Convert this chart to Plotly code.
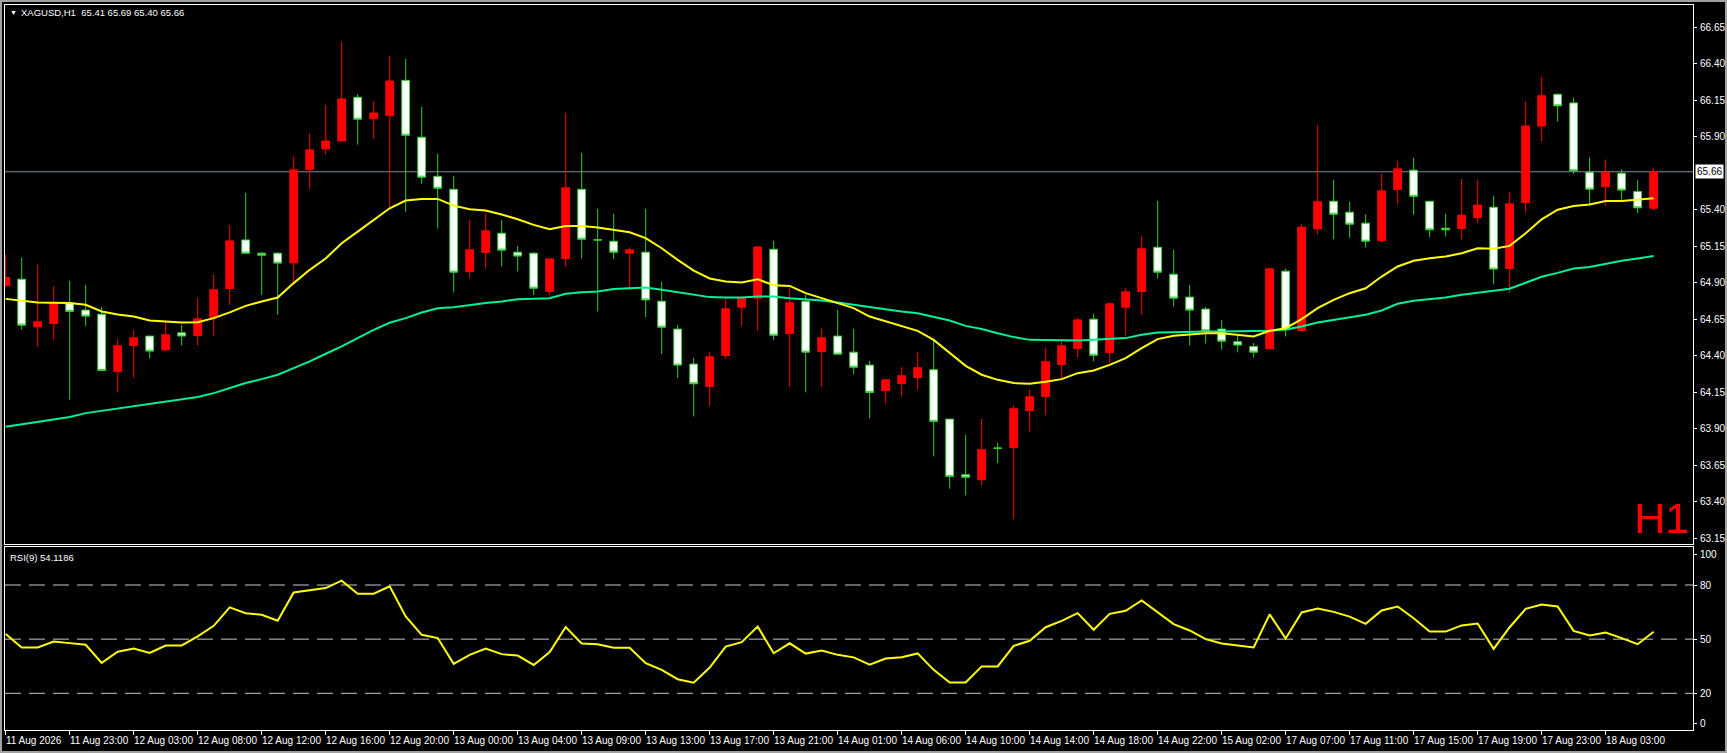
import plotly.graph_objects as go

# H1 bars, XAGUSD (red = up, white = down)
opens = [64.880, 64.924, 64.597, 64.620, 64.760, 64.712, 64.684, 64.292, 64.470, 64.534,
         64.440, 64.556, 64.538, 64.661, 64.860, 65.193, 65.102, 65.102, 65.036, 65.675,
         65.817, 65.871, 66.171, 66.024, 66.045, 66.287, 65.897, 65.629, 65.540, 64.977,
         65.107, 65.239, 65.109, 65.102, 64.840, 65.066, 65.540, 65.194, 65.184, 65.102,
         65.109, 64.773, 64.582, 64.342, 64.189, 64.401, 64.732, 64.794, 65.129, 64.552,
         64.773, 64.429, 64.534, 64.424, 64.335, 64.161, 64.209, 64.250, 64.303, 63.965,
         63.584, 63.550, 63.767, 63.771, 64.024, 64.120, 64.339, 64.449, 64.650, 64.422,
         64.732, 64.840, 65.143, 64.958, 64.801, 64.719, 64.582, 64.495, 64.463, 64.447,
         64.979, 64.572, 65.269, 65.458, 65.383, 65.308, 65.189, 65.540, 65.671, 65.458,
         65.273, 65.271, 65.346, 65.417, 64.997, 65.449, 65.974, 66.191, 66.132, 65.657,
         65.558, 65.650, 65.525, 65.410]
highs = [65.091, 65.072, 65.022, 64.874, 64.913, 64.885, 64.735, 64.513, 64.577, 64.534,
         64.634, 64.611, 64.798, 64.954, 65.294, 65.515, 65.109, 65.109, 65.764, 65.919,
         66.118, 66.550, 66.193, 66.141, 66.454, 66.433, 66.104, 65.782, 65.632, 65.330,
         65.376, 65.330, 65.152, 65.109, 65.063, 66.063, 65.789, 65.406, 65.372, 65.143,
         65.406, 64.906, 64.611, 64.385, 64.426, 64.789, 64.794, 65.145, 65.187, 64.862,
         64.817, 64.584, 64.714, 64.584, 64.365, 64.234, 64.323, 64.426, 64.508, 63.965,
         63.858, 63.967, 63.801, 64.056, 64.166, 64.454, 64.497, 64.657, 64.687, 64.762,
         64.865, 65.221, 65.460, 65.125, 64.885, 64.735, 64.645, 64.536, 64.486, 65.000,
         64.995, 65.303, 65.981, 65.604, 65.454, 65.369, 65.645, 65.734, 65.755, 65.458,
         65.372, 65.611, 65.604, 65.495, 65.518, 66.139, 66.310, 66.198, 66.168, 65.759,
         65.743, 65.677, 65.601, 65.690]
lows = [64.870, 64.577, 64.463, 64.508, 64.098, 64.604, 64.292, 64.148, 64.250, 64.381,
        64.429, 64.470, 64.470, 64.538, 64.748, 65.097, 64.817, 64.680, 64.897, 65.543,
        65.782, 65.871, 65.846, 65.887, 65.410, 65.387, 65.577, 65.271, 64.833, 64.929,
        64.997, 65.011, 64.977, 64.814, 64.814, 65.011, 65.066, 64.703, 65.061, 64.851,
        64.664, 64.410, 64.246, 63.983, 64.052, 64.376, 64.600, 64.570, 64.508, 64.189,
        64.148, 64.189, 64.410, 64.273, 63.970, 64.072, 64.120, 64.166, 63.709, 63.488,
        63.442, 63.511, 63.664, 63.280, 63.881, 63.993, 64.241, 64.387, 64.362, 64.349,
        64.538, 64.682, 64.929, 64.737, 64.470, 64.483, 64.442, 64.422, 64.387, 64.447,
        64.531, 64.572, 65.234, 65.198, 65.209, 65.141, 65.177, 65.435, 65.367, 65.212,
        65.216, 65.198, 65.308, 64.890, 64.833, 65.381, 65.868, 66.003, 65.644, 65.436,
        65.426, 65.469, 65.377, 65.400]
closes = [64.935, 64.609, 64.632, 64.760, 64.703, 64.671, 64.298, 64.467, 64.522, 64.431,
          64.543, 64.534, 64.652, 64.851, 65.186, 65.102, 65.088, 65.034, 65.673, 65.810,
          65.871, 66.159, 66.020, 66.063, 66.282, 65.910, 65.623, 65.547, 64.972, 65.125,
          65.255, 65.123, 65.082, 64.862, 65.063, 65.550, 65.198, 65.192, 65.109, 65.125,
          64.782, 64.595, 64.335, 64.207, 64.392, 64.721, 64.794, 65.145, 64.540, 64.762,
          64.424, 64.522, 64.410, 64.321, 64.148, 64.234, 64.262, 64.317, 63.949, 63.572,
          63.566, 63.755, 63.765, 64.036, 64.118, 64.358, 64.467, 64.645, 64.403, 64.755,
          64.837, 65.132, 64.972, 64.794, 64.712, 64.570, 64.499, 64.472, 64.424, 64.995,
          64.577, 65.280, 65.454, 65.369, 65.301, 65.184, 65.529, 65.680, 65.492, 65.262,
          65.262, 65.362, 65.431, 64.993, 65.440, 65.974, 66.181, 66.112, 65.667, 65.541,
          65.657, 65.535, 65.413, 65.660]

ma_fast = [64.789, 64.776, 64.764, 64.762, 64.760, 64.748, 64.703, 64.682, 64.668, 64.641,
           64.636, 64.627, 64.629, 64.657, 64.696, 64.741, 64.771, 64.798, 64.897, 64.988,
           65.066, 65.170, 65.250, 65.330, 65.410, 65.463, 65.474, 65.474, 65.428, 65.403,
           65.394, 65.367, 65.335, 65.296, 65.266, 65.289, 65.289, 65.278, 65.262, 65.246,
           65.205, 65.136, 65.056, 64.983, 64.929, 64.908, 64.901, 64.924, 64.882, 64.878,
           64.828, 64.794, 64.760, 64.726, 64.668, 64.634, 64.604, 64.570, 64.508, 64.417,
           64.330, 64.269, 64.234, 64.212, 64.207, 64.221, 64.239, 64.280, 64.298, 64.337,
           64.383, 64.451, 64.513, 64.536, 64.547, 64.554, 64.554, 64.545, 64.531, 64.570,
           64.588, 64.650, 64.725, 64.782, 64.828, 64.862, 64.942, 65.011, 65.050, 65.068,
           65.079, 65.102, 65.136, 65.132, 65.152, 65.239, 65.334, 65.400, 65.426, 65.436,
           65.459, 65.459, 65.469, 65.479]
ma_slow = [63.913, 63.929, 63.945, 63.965, 63.979, 64.006, 64.022, 64.038, 64.054, 64.070,
           64.086, 64.098, 64.116, 64.143, 64.177, 64.212, 64.239, 64.269, 64.314, 64.360,
           64.413, 64.463, 64.520, 64.577, 64.625, 64.657, 64.696, 64.725, 64.732, 64.748,
           64.760, 64.771, 64.787, 64.789, 64.794, 64.824, 64.835, 64.840, 64.856, 64.862,
           64.867, 64.851, 64.835, 64.817, 64.801, 64.798, 64.798, 64.805, 64.805, 64.794,
           64.787, 64.778, 64.764, 64.748, 64.732, 64.719, 64.703, 64.691, 64.668, 64.641,
           64.604, 64.582, 64.554, 64.527, 64.508, 64.506, 64.504, 64.504, 64.508, 64.513,
           64.520, 64.543, 64.559, 64.561, 64.566, 64.566, 64.566, 64.566, 64.566, 64.570,
           64.579, 64.600, 64.627, 64.645, 64.661, 64.680, 64.709, 64.755, 64.776, 64.787,
           64.798, 64.817, 64.833, 64.844, 64.858, 64.897, 64.940, 64.967, 64.997, 65.007,
           65.030, 65.050, 65.066, 65.083]
rsi = [52.8, 45.4, 45.4, 48.7, 47.8, 46.9, 36.9, 43.0, 44.8, 42.4,
       46.5, 46.5, 51.5, 57.4, 67.6, 64.4, 63.5, 60.2, 75.9, 77.0,
       78.3, 82.4, 75.2, 75.2, 79.3, 62.6, 52.4, 50.6, 36.3, 41.3,
       44.8, 41.7, 40.9, 35.7, 42.8, 56.7, 47.6, 47.2, 45.2, 45.2,
       36.7, 33.0, 27.8, 25.9, 34.3, 45.9, 48.3, 57.0, 42.2, 47.7,
       42.0, 43.7, 41.3, 39.9, 35.8, 39.3, 40.0, 42.1, 33.0, 26.0,
       26.0, 34.9, 34.9, 46.3, 49.1, 56.6, 60.1, 64.4, 55.2, 64.0,
       65.7, 71.4, 64.9, 58.3, 54.8, 50.0, 47.6, 46.7, 45.4, 63.7,
       50.4, 64.8, 67.0, 65.1, 62.5, 58.5, 65.9, 68.1, 61.6, 54.2,
       54.2, 57.6, 58.7, 44.6, 56.6, 66.8, 69.2, 68.1, 54.6, 52.0,
       53.7, 50.6, 47.2, 54.12]

bars = list(range(len(closes)))

time_ticks = list(range(0, 101, 4))
time_labels = ["11 Aug 2026", "11 Aug 23:00", "12 Aug 03:00", "12 Aug 08:00", "12 Aug 12:00",
               "12 Aug 16:00", "12 Aug 20:00", "13 Aug 00:00", "13 Aug 04:00", "13 Aug 09:00",
               "13 Aug 13:00", "13 Aug 17:00", "13 Aug 21:00", "14 Aug 01:00", "14 Aug 06:00",
               "14 Aug 10:00", "14 Aug 14:00", "14 Aug 18:00", "14 Aug 22:00", "15 Aug 02:00",
               "17 Aug 07:00", "17 Aug 11:00", "17 Aug 15:00", "17 Aug 19:00", "17 Aug 23:00",
               "18 Aug 03:00"]
price_ticks = [66.65, 66.40, 66.15, 65.90, 65.40, 65.15, 64.90, 64.65, 64.40, 64.15,
               63.90, 63.65, 63.40, 63.15]
last_price = 65.66
rsi_levels = [80, 50, 20]
rsi_label_pos = [97.1, 80, 50, 20, 3.4]
rsi_label_text = ["100", "80", "50", "20", "0"]

W, H = 1727, 753
FONT = "Liberation Sans, Arial, sans-serif"
x_left, x_right = 5 / W, 1693 / W
label_x = 1698 / W

fig = go.Figure()

fig.add_trace(go.Candlestick(
    x=bars, open=opens, high=highs, low=lows, close=closes,
    increasing=dict(line=dict(color="#FF0000", width=1), fillcolor="#FF0000"),
    decreasing=dict(line=dict(color="#32CD32", width=1), fillcolor="#FFFFFF"),
    whiskerwidth=0, showlegend=False, hoverinfo="skip",
    xaxis="x", yaxis="y"))

fig.add_trace(go.Scatter(x=bars, y=ma_slow, mode="lines",
                         line=dict(color="#00F09A", width=2), showlegend=False,
                         xaxis="x", yaxis="y"))
fig.add_trace(go.Scatter(x=bars, y=ma_fast, mode="lines",
                         line=dict(color="#FFFF00", width=2), showlegend=False,
                         xaxis="x", yaxis="y"))

fig.add_trace(go.Scatter(x=bars, y=rsi, mode="lines",
                         line=dict(color="#FFFF00", width=2), showlegend=False,
                         xaxis="x2", yaxis="y2"))

# current price line
fig.add_shape(type="line", xref="x domain", yref="y", x0=0, x1=1,
              y0=last_price, y1=last_price, line=dict(color="#7F8A99", width=1), layer="below")

for lvl in rsi_levels:
    fig.add_shape(type="line", xref="x2 domain", yref="y2", x0=0, x1=1, y0=lvl, y1=lvl,
                  line=dict(color="#C8C8C8", width=1, dash="16px,8px"), layer="below")

# window border
fig.add_shape(type="rect", xref="paper", yref="paper", x0=0, x1=1, y0=0, y1=1,
              line=dict(color="#A0A0A0", width=4))

axis_common = dict(showgrid=False, zeroline=False, showline=True, linecolor="#FFFFFF",
                   linewidth=1, mirror=True, showticklabels=False)

fig.update_layout(
    width=W, height=H,
    margin=dict(l=0, r=0, t=0, b=0),
    paper_bgcolor="#000000", plot_bgcolor="#000000",
    font=dict(family=FONT, size=10, color="#FFFFFF"),
    boxgap=0.3,
    xaxis=dict(domain=[x_left, x_right], range=[-0.044, 105.46], anchor="y",
               ticks="", rangeslider=dict(visible=False), **axis_common),
    yaxis=dict(domain=[1 - 544 / H, 1 - 5 / H], range=[63.109, 66.803], anchor="x",
               side="right", tickvals=price_ticks, ticks="outside", ticklen=3,
               tickcolor="#FFFFFF", **axis_common),
    xaxis2=dict(domain=[x_left, x_right], range=[-0.044, 105.46], anchor="y2", matches="x",
                tickvals=time_ticks, ticks="outside", ticklen=4, tickcolor="#FFFFFF",
                **axis_common),
    yaxis2=dict(domain=[1 - 730 / H, 1 - 547 / H], range=[-0.33, 101.05], anchor="x2",
                side="right", tickvals=rsi_label_pos, ticks="outside", ticklen=3,
                tickcolor="#FFFFFF", **axis_common),
)

label_font = dict(size=10, color="#FFFFFF", family=FONT)

for v in price_ticks:
    fig.add_annotation(xref="paper", yref="y", x=label_x, y=v, text=f"{v:.2f}",
                       showarrow=False, xanchor="left", yanchor="middle", font=label_font)
for v, t in zip(rsi_label_pos, rsi_label_text):
    fig.add_annotation(xref="paper", yref="y2", x=label_x, y=v, text=t,
                       showarrow=False, xanchor="left", yanchor="middle", font=label_font)
for v, t in zip(time_ticks, time_labels):
    fig.add_annotation(xref="x2", yref="paper", x=v, y=1 - 740 / H, text=t,
                       showarrow=False, xanchor="left", yanchor="middle", xshift=-2,
                       font=label_font)

fig.add_annotation(xref="paper", yref="y", x=1695 / W, y=last_price, text="65.66",
                   showarrow=False, xanchor="left", yanchor="middle",
                   bgcolor="#FFFFFF", font=dict(size=10, color="#000000", family=FONT),
                   borderpad=1)
fig.add_annotation(xref="paper", yref="paper", x=8 / W, y=1 - 12.5 / H, text="▼",
                   showarrow=False, xanchor="left", yanchor="middle",
                   font=dict(size=7, color="#FFFFFF", family=FONT))
fig.add_annotation(xref="paper", yref="paper", x=19 / W, y=1 - 12.5 / H,
                   text="XAGUSD,H1  65.41 65.69 65.40 65.66",
                   showarrow=False, xanchor="left", yanchor="middle",
                   font=dict(size=9.5, color="#FFFFFF", family=FONT))
fig.add_annotation(xref="paper", yref="paper", x=8 / W, y=1 - 557 / H,
                   text="RSI(9) 54.1186",
                   showarrow=False, xanchor="left", yanchor="middle",
                   font=dict(size=9.5, color="#FFFFFF", family=FONT))
fig.add_annotation(xref="paper", yref="paper", x=1661 / W, y=1 - 518 / H, text="H1",
                   showarrow=False, xanchor="center", yanchor="middle",
                   font=dict(size=43, color="#FF0000", family=FONT))

# the page body has a default margin; remove it so the chart fills the window exactly
fig.write_html("out.html", config={"displayModeBar": False},
               post_script="document.body.style.margin='0';document.body.style.overflow='hidden';")
